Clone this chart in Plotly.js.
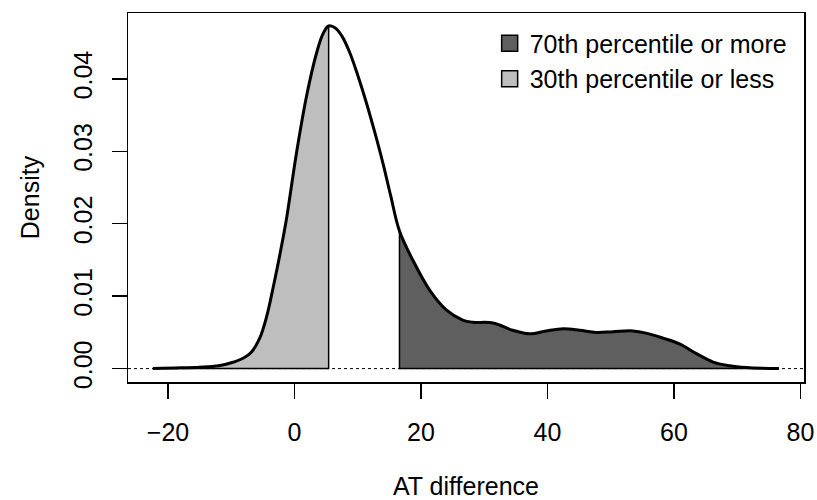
<!DOCTYPE html>
<html>
<head>
<meta charset="utf-8">
<script src="https://cdn.plot.ly/plotly-3.0.1.min.js"></script>
<style>
  html, body { margin: 0; padding: 0; background: #ffffff; }
  #chart { width: 817px; height: 500px; }
</style>
</head>
<body>
<div id="chart"></div>
<script>
// ---- data (kernel density of "AT difference") ----
const atDiff = [-22.4, -18, -15, -12, -10, -8, -6.8, -5.5, -4.4, -3.4, -2.3, -1.3, 0.3, 1.9, 3.5, 4.5, 5.4,
  6.5, 7.5, 8.7, 10, 11.4, 12.7, 14.0, 15.2, 16.6, 18.7, 21.4, 24.0, 26.6, 28.2, 31.4, 34.5, 37.2,
  39.8, 42.5, 45.1, 47.7, 50.4, 53.5, 55.6, 58.3, 60.9, 63.5, 66.2, 68.8, 71.5, 74, 76.6];
const density = [0.00002, 0.0001, 0.0002, 0.0004, 0.0008, 0.0015, 0.0023, 0.0042, 0.0072, 0.0111, 0.0158, 0.0205, 0.0297, 0.0376, 0.0436, 0.0462, 0.0473,
  0.0470, 0.0459, 0.0437, 0.0405, 0.0366, 0.0326, 0.0283, 0.0239, 0.0190, 0.0150, 0.0108, 0.0081, 0.0067, 0.0064, 0.0063, 0.0053, 0.0048,
  0.0052, 0.0055, 0.0053, 0.0050, 0.0051, 0.0052, 0.0049, 0.0042, 0.0034, 0.0021, 0.0009, 0.0004, 0.00014, 0.00004, 0.00001];
const p30 = 5.4;    // 30th percentile cut
const p70 = 16.6;   // 70th percentile cut
const legendLabels = ['70th percentile or more', '30th percentile or less'];
const xTicks = [-20, 0, 20, 40, 60, 80];
const yTicks = [0.00, 0.01, 0.02, 0.03, 0.04];

// ---- helpers ----
function densAt(p) {
  const i = atDiff.indexOf(p);
  if (i >= 0) return density[i];
  for (let k = 1; k < atDiff.length; k++) {
    if (atDiff[k] >= p) {
      const t = (p - atDiff[k - 1]) / (atDiff[k] - atDiff[k - 1]);
      return density[k - 1] + t * (density[k] - density[k - 1]);
    }
  }
  return 0;
}
const lowX = [], lowY = [], highX = [], highY = [];
atDiff.forEach((x, i) => {
  if (x <= p30) { lowX.push(x); lowY.push(density[i]); }
  if (x >= p70) { highX.push(x); highY.push(density[i]); }
});
const xFirst = atDiff[0], xLast = atDiff[atDiff.length - 1];

const LIGHT = '#bebebe', DARK = '#5f5f5f';
const FONT = 'Liberation Sans, Arial, Helvetica, sans-serif';

const traces = [
  { x: lowX, y: lowY, type: 'scatter', mode: 'lines', fill: 'tozeroy', fillcolor: LIGHT,
    line: { width: 0, shape: 'spline' }, showlegend: false, hoverinfo: 'skip' },
  { x: highX, y: highY, type: 'scatter', mode: 'lines', fill: 'tozeroy', fillcolor: DARK,
    line: { width: 0, shape: 'spline' }, showlegend: false, hoverinfo: 'skip' },
  { x: [xFirst, p30, p30, null, p70, p70, xLast],
    y: [0, 0, densAt(p30), null, densAt(p70), 0, 0],
    type: 'scatter', mode: 'lines', line: { color: '#000', width: 1.5 }, showlegend: false, hoverinfo: 'skip' },
  { x: atDiff, y: density, type: 'scatter', mode: 'lines',
    line: { color: '#000', width: 3, shape: 'spline' }, showlegend: false },
  { x: [null], y: [null], type: 'scatter', mode: 'markers', name: legendLabels[0],
    marker: { symbol: 'square', size: 16, color: DARK, line: { color: '#000', width: 1.5 } } },
  { x: [null], y: [null], type: 'scatter', mode: 'markers', name: legendLabels[1],
    marker: { symbol: 'square', size: 16, color: LIGHT, line: { color: '#000', width: 1.5 } } }
];

const layout = {
  width: 817, height: 500,
  margin: { l: 128, r: 13, t: 13, b: 118, pad: 0 },
  paper_bgcolor: '#ffffff', plot_bgcolor: '#ffffff',
  font: { family: FONT, size: 25, color: '#000' },
  showlegend: true,
  legend: { x: 0.535, y: 0.98, xanchor: 'left', yanchor: 'top', bgcolor: 'rgba(0,0,0,0)',
    font: { family: FONT, size: 25, color: '#000' }, traceorder: 'normal', itemclick: false },
  xaxis: {
    range: [-26.33, 80.57], tickmode: 'array', tickvals: xTicks, ticktext: xTicks.map(v => v < 0 ? '\u2212' + Math.abs(v) : String(v)),
    ticks: 'outside', ticklen: 15, tickwidth: 1.5, tickcolor: '#000', ticklabelstandoff: 12,
    showline: true, linewidth: 1.5, linecolor: '#000', mirror: true,
    showgrid: false, zeroline: false,
    tickfont: { family: FONT, size: 25 },
    title: { text: 'AT difference', font: { family: FONT, size: 25 }, standoff: 38 }
  },
  yaxis: {
    range: [-0.00185, 0.04909], tickmode: 'array', tickvals: yTicks, ticktext: yTicks.map(v => v.toFixed(2)),
    tickangle: -90,
    ticks: 'outside', ticklen: 15, tickwidth: 1.5, tickcolor: '#000', ticklabelstandoff: 10,
    showline: true, linewidth: 1.5, linecolor: '#000', mirror: true,
    showgrid: false, zeroline: false,
    tickfont: { family: FONT, size: 25 },
    title: { text: 'Density', font: { family: FONT, size: 25 }, standoff: 22 }
  },
  shapes: [
    { type: 'line', xref: 'paper', x0: 0, x1: 1, yref: 'y', y0: 0, y1: 0, layer: 'below',
      line: { color: '#000', width: 1, dash: 'dot' } }
  ]
};

Plotly.newPlot('chart', traces, layout, { staticPlot: true, displayModeBar: false });
</script>
</body>
</html>
